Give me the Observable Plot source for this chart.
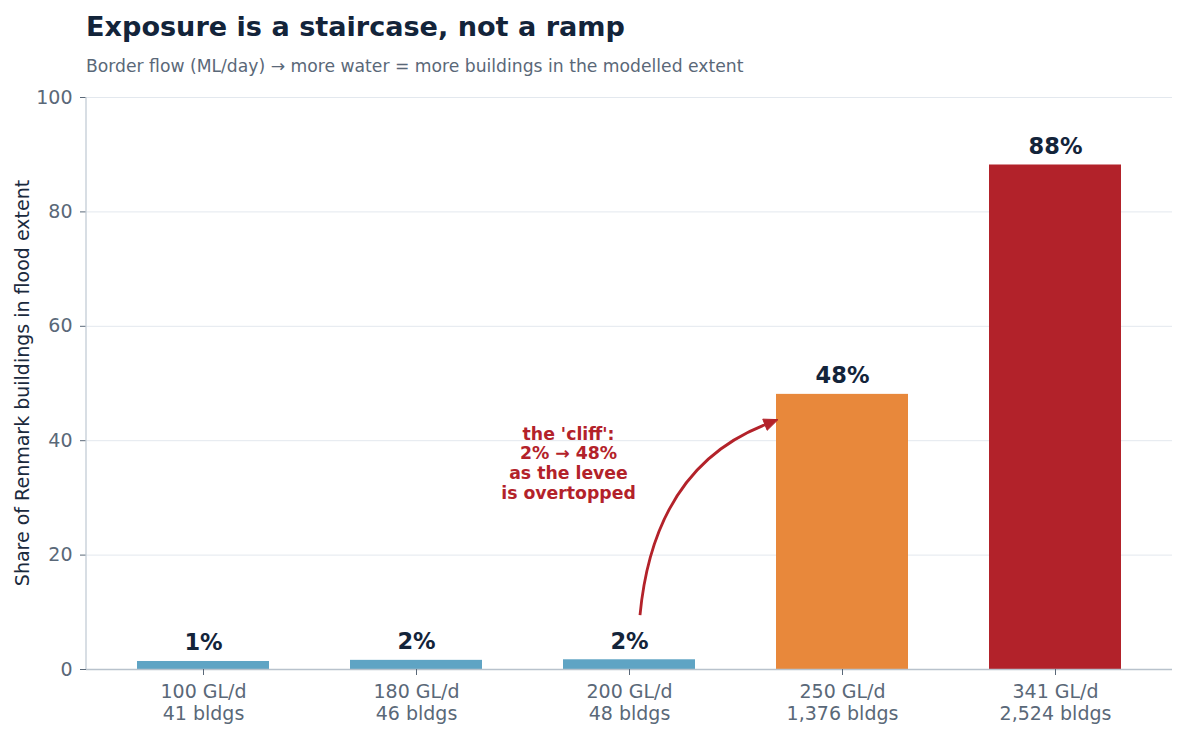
<!DOCTYPE html>
<html><head><meta charset="utf-8">
<script src="https://cdn.jsdelivr.net/npm/d3@7"></script>
<script src="https://cdn.jsdelivr.net/npm/@observablehq/plot@0.6"></script>
<style>
body{margin:0;background:#fff;font-family:"DejaVu Sans",sans-serif;}
#wrap{position:relative;width:1185px;height:735px;overflow:hidden;background:#fff;}
#title{position:absolute;left:86px;top:13px;font-size:27.1px;font-weight:bold;line-height:1;color:#13243a;white-space:nowrap;}
#sub{position:absolute;left:86px;top:58px;font-size:17.2px;line-height:1;color:#5a6878;white-space:nowrap;}
#chart{position:absolute;left:0;top:80px;}
</style></head><body>
<div id="wrap">
<div id="title">Exposure is a staircase, not a ramp</div>
<div id="sub">Border flow (ML/day) → more water = more buildings in the modelled extent</div>
<div id="chart"></div>
</div>
<script>
const flows = ["100 GL/d", "180 GL/d", "200 GL/d", "250 GL/d", "341 GL/d"];
const bldgLabels = ["41", "46", "48", "1,376", "2,524"];
const shares = [1.4, 1.6, 1.7, 48.1, 88.2];
const shareLabels = ["1%", "2%", "2%", "48%", "88%"];
const barColors = ["#5fa4c4", "#5fa4c4", "#5fa4c4", "#e8883b", "#b2222a"];
const yTicks = [0, 20, 40, 60, 80, 100];
const annotText = "the 'cliff':\n2% → 48%\nas the levee\nis overtopped";
const annotPos = {x: "200 GL/d", y: 36.1};
const arrowFrom = {x: "200 GL/d", y: 9.4};
const arrowTo = {x: "250 GL/d", y: 43.6};

const data = flows.map((f, i) => ({flow: f, share: shares[i], color: barColors[i], label: shareLabels[i]}));
const tickText = Object.fromEntries(flows.map((f, i) => [f, `${f}\n${bldgLabels[i]} bldgs`]));

const chart = Plot.plot({
  width: 1185, height: 655,
  marginTop: 17, marginBottom: 66, marginLeft: 86, marginRight: 13,
  style: {fontFamily: "DejaVu Sans", background: "#fff", overflow: "visible"},
  x: {domain: flows, paddingInner: 0.38, paddingOuter: 0.23, label: null, axis: null},
  y: {domain: [0, 100], label: null, axis: null},
  color: {type: "identity"},
  marks: [
    Plot.gridY(yTicks, {stroke: "#e3e8ee", strokeOpacity: 1, strokeWidth: 1}),
    Plot.barY(data, {x: "flow", y: "share", fill: "color"}),
    Plot.ruleY([0], {stroke: "#b8c2cc", strokeWidth: 1.3}),
    Plot.axisY(yTicks, {tickSize: 6, tickPadding: 8, fontSize: 19, fill: "#5a6878", stroke: "#5a6878", label: null}),
    Plot.axisX({tickSize: 6, tickPadding: 7, fontSize: 19, fill: "#5a6878", stroke: "#5a6878", tickFormat: d => tickText[d], label: null, lineHeight: 1.16}),
    Plot.text(data, {x: "flow", y: "share", text: "label", dy: -11, lineAnchor: "bottom", fontSize: 22.5, fontWeight: "bold", fill: "#13243a"}),
    Plot.text([annotPos], {x: "x", y: "y", text: () => annotText, dx: -61, fontSize: 17.3, fontWeight: "bold", fill: "#b3222a", lineHeight: 1.14})
  ]
});
document.getElementById("chart").append(chart);

const svg = d3.select(chart);
const sx = chart.scale("x"), sy = chart.scale("y");
const bw = sx.bandwidth;
// y axis line
svg.append("line")
  .attr("x1", 86).attr("x2", 86)
  .attr("y1", sy.apply(100)).attr("y2", sy.apply(0))
  .attr("stroke", "#c3ccd6").attr("stroke-width", 1.3);
// y axis label
svg.append("text")
  .attr("transform", `translate(22,${(sy.apply(0) + sy.apply(100)) / 2}) rotate(-90)`)
  .attr("text-anchor", "middle").attr("dominant-baseline", "central")
  .attr("font-size", 19).attr("fill", "#1b2a3d").attr("font-family", "DejaVu Sans")
  .text("Share of Renmark buildings in flood extent");
// curved arrow
const x0 = sx.apply(arrowFrom.x) + bw / 2 + 11, y0 = sy.apply(arrowFrom.y);
const x1 = sx.apply(arrowTo.x) + 2, y1 = sy.apply(arrowTo.y);
const cx = x0 + 0.1 * (x1 - x0), cy = y0 + 0.75 * (y1 - y0);
const ang = Math.atan2(y1 - cy, x1 - cx);
const hl = 14, hw = 6;
const bx = x1 - hl * Math.cos(ang), by = y1 - hl * Math.sin(ang);
svg.append("path")
  .attr("d", `M${x0},${y0} Q${cx},${cy} ${bx},${by}`)
  .attr("fill", "none").attr("stroke", "#b3222a").attr("stroke-width", 2.8);
svg.append("path")
  .attr("d", `M${x1},${y1} L${bx - hw * Math.sin(ang)},${by + hw * Math.cos(ang)} L${bx + hw * Math.sin(ang)},${by - hw * Math.cos(ang)} Z`)
  .attr("fill", "#b3222a").attr("stroke", "#b3222a").attr("stroke-width", 1);
</script>
</body></html>
